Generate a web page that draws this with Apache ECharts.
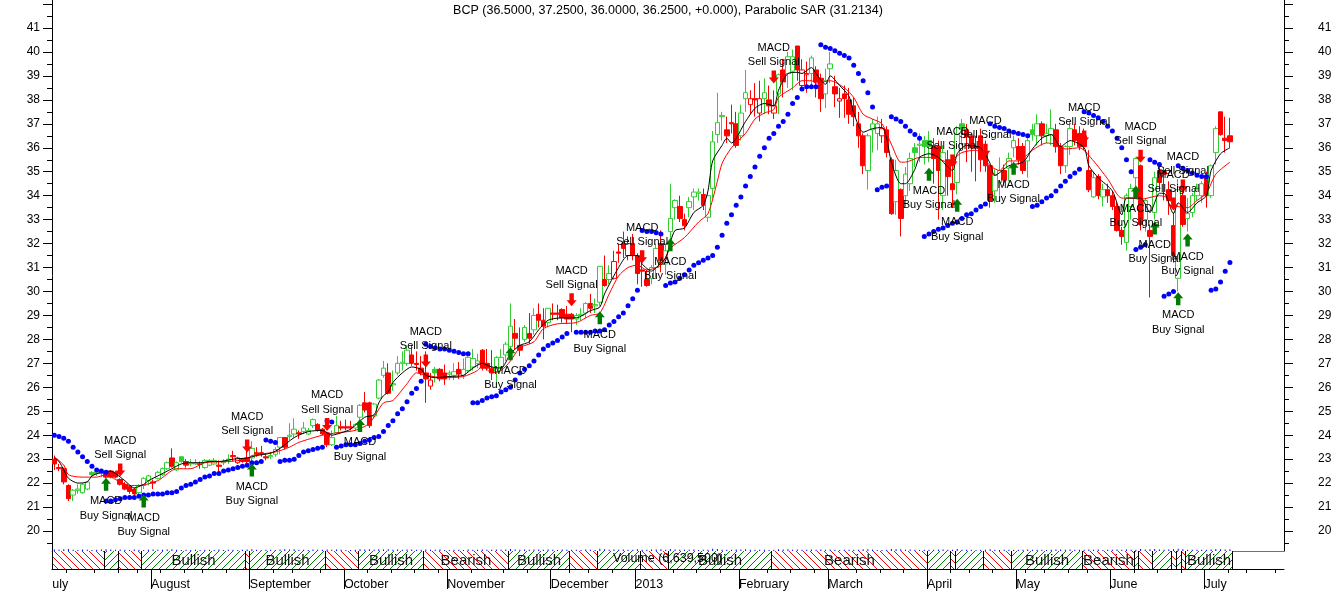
<!DOCTYPE html>
<html><head><meta charset="utf-8"><title>BCP</title>
<script src="https://cdn.jsdelivr.net/npm/echarts@6/dist/echarts.min.js"></script>
<style>html,body{margin:0;padding:0;background:#fff}#c{width:1336px;height:591px}</style></head>
<body><div id="c"></div><script>
const opens=[
23.0,22.65,22.6,21.9,21.5,21.7,21.6,21.75,22.45,22.4,
22.4,22.45,22.5,22.45,22.15,21.95,21.85,21.75,21.6,21.9,
22.1,22.05,22.2,22.35,22.6,23.05,22.55,23.1,22.9,22.8,
22.8,22.8,22.65,22.75,22.8,22.75,22.85,22.95,23.15,22.85,
23.0,23.05,23.05,23.27,23.27,23.1,23.1,23.2,23.5,23.9,
23.95,24.05,24.1,24.15,24.05,24.4,24.45,24.25,24.1,23.6,
24.1,24.35,24.35,24.35,24.3,24.75,25.35,25.35,24.8,25.55,
26.5,26.6,26.1,26.6,27.0,27.0,27.35,27.0,26.8,26.6,
26.05,26.75,26.75,26.6,26.55,26.5,26.75,26.5,26.7,26.85,
27.0,27.55,27.0,26.8,26.65,26.85,27.35,27.7,28.25,27.75,
28.0,28.25,28.4,29.05,28.8,28.7,29.1,29.1,29.25,29.05,
29.05,28.85,29.0,29.1,29.5,29.4,29.55,30.5,30.5,30.55,
31.65,32.0,31.5,32.0,31.5,30.9,30.5,30.55,31.0,32.0,
31.15,32.5,33.5,33.55,33.0,33.5,33.95,34.1,34.05,33.1,
34.3,36.55,37.3,36.75,37.05,37.0,36.5,38.05,37.8,38.05,
37.45,38.05,38.0,37.45,38.25,39.25,39.1,39.2,40.25,38.6,
39.05,39.1,39.25,38.9,38.25,39.3,38.55,37.95,38.25,38.0,
37.75,37.0,36.5,35.05,36.75,36.6,36.5,36.75,35.5,33.75,
34.25,34.0,34.5,36.0,36.1,36.3,36.3,36.05,36.05,34.0,
35.5,34.5,34.55,37.0,36.75,36.5,36.05,36.5,35.8,35.25,
34.2,34.55,35.05,35.15,36.0,36.05,36.05,35.45,36.75,36.5,
37.0,36.5,36.55,36.75,36.05,35.25,36.05,36.75,36.6,36.5,
35.05,33.95,34.8,33.95,34.25,34.0,33.55,32.55,32.05,33.55,
34.75,35.25,33.0,32.55,33.3,35.05,35.0,34.25,32.75,30.55,
34.0,33.05,33.3,34.0,34.0,34.75,34.0,35.8,37.5,36.4,36.5];
const closes=[
22.8,22.6,22.05,21.35,21.7,21.75,21.95,22.05,22.35,22.45,
22.45,22.25,22.25,22.25,21.95,21.75,21.65,21.55,21.9,22.2,
22.3,22.0,22.45,22.6,22.85,22.7,22.85,22.9,22.75,22.85,
22.85,22.78,22.95,22.95,22.95,22.7,22.9,23.0,23.1,23.05,
22.9,22.9,23.45,23.22,23.22,23.05,23.15,23.4,23.9,23.5,
24.0,24.25,24.05,24.3,24.2,24.65,24.2,24.05,23.6,23.9,
24.4,24.3,24.3,24.3,24.45,25.25,25.05,24.4,25.3,26.3,
26.8,25.75,26.15,27.0,27.05,27.55,27.0,26.95,26.6,26.35,
26.3,26.6,26.35,26.35,26.6,26.65,26.55,26.75,27.25,27.2,
27.1,26.8,26.8,26.6,27.25,27.25,27.8,28.55,28.05,27.55,
28.5,28.05,29.0,28.8,28.55,29.3,29.05,29.05,28.9,28.85,
28.85,29.0,29.05,29.5,29.3,29.45,31.05,30.25,30.75,31.25,
31.6,31.8,32.0,31.5,30.75,30.85,30.25,31.0,31.8,31.3,
31.7,33.05,33.8,33.05,32.75,33.75,34.15,34.15,33.6,34.0,
36.25,37.05,37.35,36.5,37.0,36.1,37.45,38.3,38.05,38.0,
38.05,38.3,37.75,37.75,39.05,38.75,39.8,39.8,39.25,39.25,
39.1,39.75,38.75,38.05,38.8,39.5,38.25,38.05,38.05,37.4,
37.3,36.5,35.25,36.5,37.0,37.0,36.8,35.8,33.25,35.05,
33.05,34.9,35.55,35.8,36.15,36.05,36.05,35.55,35.05,35.8,
34.8,34.25,36.55,36.75,36.45,36.0,36.0,35.5,35.25,33.8,
34.85,35.05,34.65,35.55,36.3,35.5,35.05,36.3,36.55,37.0,
36.5,36.6,36.8,36.05,35.25,36.05,36.8,36.3,36.05,36.05,
34.25,34.75,34.0,34.25,34.0,33.55,32.55,32.3,34.0,34.3,
35.55,32.8,33.8,32.3,34.75,34.55,34.9,33.8,31.5,34.25,
32.8,33.25,34.0,34.3,34.5,34.0,35.25,36.8,36.55,36.3,36.25];
const lows=[
22.55,22.5,21.95,21.25,21.25,21.55,21.55,21.7,22.3,22.3,
22.25,22.2,22.2,22.2,21.9,21.7,21.55,21.45,21.45,21.75,
21.9,21.75,22.15,22.3,22.55,22.65,22.5,22.85,22.65,22.7,
22.75,22.6,22.6,22.7,22.75,22.45,22.75,22.8,22.9,22.8,
22.85,22.8,22.9,23.1,23.1,22.95,23.0,23.1,23.2,23.4,
23.8,23.9,23.85,24.05,24.0,24.3,24.15,24.0,23.5,23.55,
24.05,24.2,24.2,24.2,24.2,24.65,24.95,24.3,24.7,25.5,
26.4,25.7,25.85,26.5,26.7,26.9,26.9,26.7,26.5,25.35,
25.9,26.2,26.25,26.1,26.3,26.3,26.35,26.35,26.6,26.7,
26.8,26.7,26.7,26.3,26.0,26.7,27.1,27.5,27.6,27.3,
27.9,27.8,28.2,28.5,28.0,28.5,28.8,28.8,28.7,28.65,
28.3,28.6,28.8,28.9,29.1,29.1,29.4,30.2,30.3,30.5,
31.2,31.4,31.3,31.3,30.3,30.2,30.2,30.3,30.6,30.8,
30.7,32.0,33.0,32.9,32.55,33.1,33.4,33.8,33.4,32.9,
33.9,36.2,36.3,36.2,36.6,36.0,36.3,37.5,37.4,37.3,
37.1,37.4,37.4,37.2,37.4,38.1,38.5,38.4,38.8,38.4,
38.3,38.6,38.1,37.5,37.65,38.7,37.7,37.25,37.25,37.0,
36.9,36.0,34.9,34.25,35.8,35.9,36.2,35.6,33.2,33.2,
32.3,33.5,34.2,35.2,35.4,35.3,35.4,34.5,33.0,33.4,
34.0,33.5,34.05,36.1,35.4,35.0,34.6,35.0,35.0,33.5,
33.7,34.0,34.4,34.6,35.6,35.3,34.9,34.75,36.3,36.1,
36.1,36.2,36.1,35.8,34.9,34.95,35.7,36.1,35.9,35.9,
34.15,33.9,33.85,33.55,33.7,33.4,32.5,31.95,31.7,33.0,
34.4,32.55,32.5,29.75,33.0,34.2,33.8,33.2,31.2,30.0,
32.7,32.5,33.1,33.8,33.7,33.5,33.9,35.3,36.5,35.8,36.0];
const highs=[
23.15,22.8,22.65,21.95,21.75,21.95,22.0,22.1,22.5,22.55,
22.5,22.5,22.55,22.5,22.2,22.05,21.9,21.8,21.95,22.25,
22.35,22.15,22.5,22.65,22.9,23.45,22.9,23.1,23.0,23.0,
23.0,22.9,23.0,23.0,23.05,22.95,23.0,23.2,23.35,23.1,
23.05,23.4,23.75,23.5,23.55,23.2,23.3,23.5,23.9,23.9,
24.5,24.7,24.2,24.55,24.3,24.7,24.5,24.3,24.15,24.2,
24.8,24.6,24.65,24.6,24.5,25.3,25.8,25.4,25.35,26.35,
27.1,27.0,26.7,27.3,27.5,27.75,27.75,27.5,27.3,27.5,
26.6,26.85,26.8,26.95,26.7,27.0,27.05,27.2,27.3,27.6,
27.4,27.6,27.6,27.55,27.3,27.6,27.9,29.5,28.85,28.5,
28.6,29.1,29.3,29.5,29.3,29.3,29.5,29.45,29.3,29.4,
29.1,29.1,29.3,29.55,29.9,29.7,31.05,31.5,31.1,31.7,
32.0,32.5,32.3,32.4,31.6,31.2,30.9,31.1,32.0,32.55,
32.0,34.5,33.85,34.0,33.25,33.95,34.3,34.3,34.3,34.1,
36.7,38.3,37.5,37.3,37.8,37.5,37.8,39.25,38.4,38.7,
38.8,38.9,38.6,38.4,39.1,39.7,40.0,40.1,40.25,39.7,
39.6,39.85,39.4,39.1,39.3,40.0,39.0,38.5,38.6,38.5,
38.1,37.5,36.6,36.6,37.2,37.3,37.2,36.9,35.6,35.5,
34.3,35.2,35.8,36.2,36.6,36.5,36.7,36.4,36.3,36.1,
35.9,35.2,36.9,37.2,37.0,36.6,36.5,36.8,36.3,35.3,
35.1,35.6,35.3,35.8,36.5,36.4,36.2,36.4,37.0,37.4,
37.1,37.0,37.6,37.0,36.2,36.1,37.1,37.0,36.9,36.8,
35.9,35.0,34.9,34.5,34.5,34.2,33.7,32.7,34.1,34.5,
35.6,35.3,33.9,32.8,35.0,35.2,35.2,34.6,33.3,34.7,
34.4,33.9,34.1,34.5,34.6,35.0,35.3,36.9,37.5,37.3,37.25];
const barColorGroups=[
"rrrrgggggg","grrrrrrrgg","grgggrggrg","grgggrggrr","rrgrrrgggr",
"ggrgggrrrg","grrrggrrgg","grggggrrrr","rgrrggrggg","grrrggggrr",
"grgrrgrrrr","rgggrggrgr","rrrrrrrggr","gggrrgggrg","gggrrrggrr",
"rgrrgrggrr","rgrrggrrrr","rrrgggrrrg","rggggggrrg","rrggrrrrrr",
"ggrggrrggg","rggrrggrrr","rgrgrrrrgg","grgrgrrrrg","rggggrggrr","r"];
const monthIdx=[0,21,42,62,84,106,124,146,165,186,205,225,245];
const monthNames=["uly","August","September","October","November","December","2013","February","March","April","May","June","July"];
const weekTicks=[3,9,14,18,23,28,32,37,47,51,57,67,72,77,82,89,96,101,110,114,119,132,137,142,152,157,162,171,176,181,191,195,200,207,211,216,220,230,235,240,250,254,260];
const fastIdx=[0,1,2,3,5,7,8,10,12,13,15,17,19,20,22,25,27,29,31,33,35,38,41,43,46,48,51,54,57,59,61,63,66,68,69,70,71,72,74,76,78,79,81,84,87,89,91,93,95,97,99,101,103,105,108,111,114,116,117,120,122,124,125,127,128,130,131,132,134,136,138,139,140,142,143,144,147,149,151,153,154,156,158,159,161,162,164,165,167,169,170,172,174,176,177,178,180,181,183,184,186,188,191,192,194,197,199,200,203,206,208,210,212,214,216,219,220,222,225,227,228,231,233,235,236,238,239,241,243,245,246,248,250];
const fastVal=[23.05,22.9,22.55,22.2,22.0,22.05,22.3,22.45,22.5,22.4,22.1,21.8,21.95,22.1,22.3,22.6,22.8,22.85,22.85,22.9,22.9,23.0,23.05,23.15,23.25,23.45,23.9,24.15,24.2,24.0,24.1,24.25,24.75,24.85,25.35,25.65,25.8,26.2,26.6,26.85,26.75,26.5,26.4,26.45,26.5,26.8,27.0,26.85,26.8,27.4,27.75,27.9,28.4,28.8,28.9,28.9,29.2,29.35,29.9,31.0,31.5,31.5,31.15,30.85,31.0,31.4,32.05,32.55,32.65,33.3,33.6,34.2,35.45,36.1,36.4,36.2,37.1,37.65,37.85,37.75,38.4,39.1,39.15,39.1,39.35,39.1,38.65,39.0,38.6,38.15,37.45,36.65,36.8,36.85,36.4,35.4,34.5,34.5,35.1,35.6,35.75,35.6,35.05,35.75,36.1,36.0,35.35,34.85,35.25,35.4,35.95,36.4,36.55,36.05,36.3,36.0,35.25,34.75,34.2,33.2,33.9,33.9,33.3,34.1,34.1,33.25,33.7,33.3,33.7,34.0,35.05,35.75,36.0];
const slowIdx=[0,2,3,6,9,11,13,16,18,22,26,29,32,37,41,42,47,50,52,57,60,64,67,70,72,75,77,79,83,87,90,91,93,95,97,99,102,104,107,111,114,116,118,120,122,124,126,129,131,134,137,139,141,142,144,147,149,151,153,154,157,159,161,162,165,168,170,172,174,176,178,180,181,184,187,190,193,196,199,201,203,205,208,211,213,215,218,221,224,227,229,231,235,237,238,241,243,245,247,250];
const slowVal=[23.1,22.75,22.35,22.25,22.25,22.35,22.15,21.9,21.9,22.1,22.6,22.6,22.85,22.9,23.0,23.15,23.3,23.5,23.7,24.0,24.1,24.2,24.5,25.35,25.45,26.15,26.6,26.5,26.4,26.45,26.7,26.9,26.6,26.7,27.1,27.65,27.9,28.45,28.65,28.7,29.0,29.1,29.9,30.65,31.0,31.1,30.9,31.1,31.8,32.25,32.9,33.25,34.6,35.35,36.0,36.6,37.2,37.45,37.6,38.1,38.5,38.8,38.8,38.7,38.8,38.5,38.1,37.4,37.2,37.0,36.15,35.4,35.4,35.6,35.6,35.4,35.8,35.9,35.25,35.05,35.45,35.45,35.9,36.2,36.15,35.95,36.0,35.45,34.7,33.9,33.9,33.85,34.0,33.9,33.6,33.5,33.8,34.1,34.9,35.4];
const sarStarts=[0,11,45,48,58,60,79,89,111,125,130,163,175,178,185,199,208,219,230,233,236,239,246];
const sarValues=[
[24.0,23.95,23.87,23.75,23.5,23.3,23.1,22.9,22.7,22.55,22.5,22.45],
[21.25,21.25,21.3,21.35,21.4,21.4,21.4,21.45,21.5,21.5,21.55,21.55,21.55,21.6,21.6,21.65,21.8,21.9,21.95,22.05,22.15,22.25,22.3,22.4,22.4,22.5,22.55,22.6,22.65,22.7,22.75,22.85,22.85,22.9],
[23.8,23.75,23.7],
[22.9,22.95,22.95,23.0,23.15,23.3,23.35,23.4,23.45,23.5],
[24.6,24.55],
[23.5,23.55,23.6,23.6,23.6,23.65,23.75,23.8,23.9,23.95,24.15,24.4,24.6,24.9,25.1,25.4,25.75,25.95,26.25],
[27.8,27.7,27.65,27.6,27.6,27.55,27.5,27.45,27.4,27.4],
[25.35,25.35,25.45,25.55,25.6,25.65,25.8,25.9,26.0,26.3,26.6,26.75,26.9,27.1,27.35,27.6,27.75,27.85,27.95,28.1,28.25],
[28.3,28.3,28.3,28.3,28.35,28.35,28.4,28.6,28.75,28.95,29.1,29.4,29.7,30.05],
[32.55,32.5,32.5,32.45,32.4],
[30.25,30.35,30.4,30.55,30.7,30.9,31.1,31.2,31.3,31.4,31.5,31.85,32.35,32.85,33.2,33.6,33.95,34.4,34.8,35.2,35.65,36.0,36.4,36.6,36.9,37.1,37.4,37.85,38.1,38.45,38.55,38.55,38.55],
[40.3,40.2,40.15,40.05,39.95,39.85,39.75,39.45,39.1,38.8,38.3,37.7],
[34.25,34.35,34.4],
[37.3,37.2,37.1,36.9,36.7,36.55,36.4],
[32.3,32.4,32.5,32.6,32.65,32.75,32.85,32.9,33.05,33.2,33.25,33.4,33.55,33.65],
[37.0,36.9,36.85,36.8,36.7,36.65,36.6,36.55,36.5],
[33.55,33.6,33.75,33.9,34.0,34.2,34.4,34.6,34.8,34.95,35.1],
[37.5,37.45,37.35,37.25,37.1,36.9,36.7,36.4,36.0,35.5,35.0],
[31.75,31.85,31.95],
[35.5,35.4,35.3],
[29.8,29.9,30.0],
[35.25,35.15,35.05,34.95,34.85,34.8,34.8],
[30.05,30.1,30.4,30.85,31.21]];
const sellIdx=[14,41,58,79,110,125,153,191,198,219,231,240,238];
const sellPrice=[22.55,23.55,24.45,27.1,29.65,31.45,38.95,35.45,35.9,36.45,35.65,34.4,33.65];
const buyIdx=[11,19,42,65,97,116,131,186,192,204,230,234,241,239];
const buyPrice=[21.95,21.25,22.55,24.4,27.4,28.9,31.95,34.9,33.6,35.15,34.15,32.65,32.15,29.7];
const bandEdges=[0,11,14,19,41,42,58,65,79,97,110,116,125,131,153,186,191,192,198,204,219,230,231,234,238,239,240,241,251];
const bandStates="rgrgrgrgrgrgrgrgrgrgrgrgrgrg";
const bandText=["","","","Bullish","","Bullish","","Bullish","Bearish","Bullish","","","","Bullish","Bearish","","","","","Bullish","Bearish","","","","","","","Bullish"];
const volumes=[6,5,7,8,5,4,6,5,4,5,6,7,6,5,6,5,4,6,5,4,5,6,5,5,6,7,5,4,5,4,5,4,5,5,4,6,4,5,5,4,5,6,7,5,4,5,5,4,6,7,6,7,5,5,4,6,5,5,6,5,6,5,4,4,5,7,6,7,5,7,6,7,5,6,5,6,6,5,5,6,5,5,6,4,4,5,5,4,6,5,5,6,5,5,6,5,6,8,6,5,6,5,6,6,5,6,5,4,6,5,5,5,4,6,5,4,9,7,5,6,5,6,5,5,7,5,5,6,6,7,5,8,6,5,5,5,6,4,5,5,9,8,5,5,5,6,6,7,5,5,5,5,4,5,7,6,7,5,6,5,5,6,5,6,5,6,5,4,5,5,5,5,7,7,6,4,4,5,8,7,7,5,6,5,4,5,5,5,6,6,5,5,8,5,5,5,4,5,5,7,5,4,5,5,5,5,5,6,5,5,5,4,5,6,6,5,6,5,5,5,6,5,6,4,5,5,6,5,6,5,5,8,6,7,8,6,5,6,7,9,7,5,5,5,5,5,6,8,7,6,7];
const yMin=19.165,yMax=42.17;
const majorValues=[20,21,22,23,24,25,26,27,28,29,30,31,32,33,34,35,36,37,38,39,40,41,42];
const minorValues=[19.5,20.5,21.5,22.5,23.5,24.5,25.5,26.5,27.5,28.5,29.5,30.5,31.5,32.5,33.5,34.5,35.5,36.5,37.5,38.5,39.5,40.5,41.5];
const labelValues=[20,21,22,23,24,25,26,27,28,29,30,31,32,33,34,35,36,37,38,39,40,41];

const slotCount=262;
const colorsStr=barColorGroups.join("");
const FONT='"Liberation Sans",Arial,sans-serif';
const GREEN='#32cd32',RED='#ff0000';
const categories=[];for(let i=0;i<slotCount;i++){const m=monthIdx.indexOf(i);categories.push(m>=0?monthNames[m]:'');}
function hatch(color,down){const s=7,c=document.createElement('canvas');c.width=s;c.height=s;const g=c.getContext('2d');g.fillStyle='#fff';g.fillRect(0,0,s,s);g.fillStyle=color;for(let k=0;k<s;k++){g.fillRect(k,down?k:s-1-k,1,1);}return {image:c,repeat:'repeat'};}
const patR=hatch('#ff0000',true),patG=hatch('#008000',false);

const candleData=opens.map((o,i)=>{
  const col=colorsStr[i]==='g'?GREEN:RED;
  const fill=closes[i]>o?'#fff':col;
  return {value:[o,closes[i],lows[i],highs[i]],itemStyle:{color:fill,color0:fill,borderColor:col,borderColor0:col,borderColorDoji:col,opacity:1}};
});
const sarData=[];sarValues.forEach((seg,k)=>seg.forEach((v,j)=>sarData.push([sarStarts[k]+j,v])));
const bandData=[];for(let k=0;k<bandEdges.length-1;k++)bandData.push([bandEdges[k],bandEdges[k+1],k]);
const tickData=weekTicks.map(i=>[i,4]).concat(monthIdx.slice(1).map(i=>[i,20]));
const crisp=v=>Math.round(v)+0.5;

function yAx(pos,kind){
  const major=kind==='major';
  return {type:'value',gridIndex:0,position:pos,min:yMin,max:yMax,splitLine:{show:false},
    axisLine:{show:major,onZero:false,lineStyle:{color:'#000'}},
    axisTick:{show:true,inside:false,length:major?9:5,customValues:major?majorValues:minorValues,lineStyle:{color:'#000'}},
    axisLabel:major?{show:true,customValues:labelValues,fontFamily:FONT,fontSize:12,color:'#000',margin:pos==='left'?12:34,align:pos==='left'?'right':'left',formatter:v=>String(v)}:{show:false}};
}
const chart=echarts.init(document.getElementById('c'),null,{renderer:'canvas'});
chart.setOption({
  animation:false,backgroundColor:'#fff',
  title:[
    {text:'BCP (36.5000, 37.2500, 36.0000, 36.2500, +0.000), Parabolic SAR (31.2134)',left:'center',top:4,padding:0,textStyle:{fontFamily:FONT,fontSize:12.5,fontWeight:'normal',color:'#000'}},
    {text:'Volume (6,639,500)',left:613,top:552,padding:0,z:20,textStyle:{fontFamily:FONT,fontSize:12.5,fontWeight:'normal',color:'#000'}}
  ],
  grid:[{left:52,right:52,top:0,height:551},{left:52,right:52,top:551,height:20}],
  xAxis:[
    {type:'category',gridIndex:0,data:categories,boundaryGap:true,axisLine:{onZero:false,lineStyle:{color:'#707070'}},axisTick:{show:false},axisLabel:{show:false},splitLine:{show:false}},
    {type:'category',gridIndex:1,data:categories,boundaryGap:true,axisLine:{onZero:false,lineStyle:{color:'#000'}},axisTick:{show:false},splitLine:{show:false},
      axisLabel:{show:true,interval:(i,v)=>v!=='',align:'left',margin:9,padding:[0,0,0,-2],fontFamily:FONT,fontSize:12.5,color:'#000',hideOverlap:false}}
  ],
  yAxis:[yAx('left','major'),yAx('left','minor'),yAx('right','major'),yAx('right','minor'),
    {type:'value',gridIndex:0,min:0,max:2200,show:false,splitLine:{show:false}},
    {type:'value',gridIndex:1,min:0,max:1,show:false,splitLine:{show:false}}
  ],
  series:[
    {type:'custom',name:'band',xAxisIndex:1,yAxisIndex:5,z:1,silent:true,clip:false,data:bandData,
      renderItem:(p,api)=>{
        const a=api.value(0),b=api.value(1),k=api.value(2),w=api.size([1,0])[0];
        const tl=api.coord([a,1]),br=api.coord([b,0]);
        const x0=crisp(tl[0]-w/2),x1=crisp(br[0]-w/2),y0=tl[1],y1=br[1];
        const kids=[
          {type:'rect',shape:{x:x0,y:y0,width:x1-x0,height:y1-y0},style:{fill:bandStates[k]==='r'?patR:patG,stroke:null}},
          {type:'line',shape:{x1:x0,y1:y0,x2:x0,y2:y1},style:{stroke:'#000',lineWidth:1}},
          {type:'line',shape:{x1:x1,y1:y0,x2:x1,y2:y1},style:{stroke:'#000',lineWidth:1}}];
        if(bandText[k])kids.push({type:'text',style:{text:bandText[k],x:(x0+x1)/2,y:(y0+y1)/2+1,align:'center',verticalAlign:'middle',fill:'#111',font:'15px '+FONT}});
        return {type:'group',children:kids};
      }},
    {type:'custom',name:'ticks',xAxisIndex:1,yAxisIndex:5,z:2,silent:true,clip:false,data:tickData,
      renderItem:(p,api)=>{
        const c=api.coord([api.value(0),0]),w=api.size([1,0])[0],x=crisp(c[0]-w/2);
        return {type:'line',shape:{x1:x,y1:c[1],x2:x,y2:c[1]+api.value(1)},style:{stroke:'#000',lineWidth:1}};
      }},
    {type:'bar',name:'Volume',xAxisIndex:0,yAxisIndex:4,barWidth:1,z:3,silent:true,itemStyle:{color:'#0000ff'},data:volumes},
    {type:'candlestick',name:'BCP',xAxisIndex:0,yAxisIndex:0,barWidth:5,z:4,silent:true,data:candleData,
      itemStyle:{borderWidth:1}},
    {type:'line',name:'slow',xAxisIndex:0,yAxisIndex:0,z:5,silent:true,showSymbol:false,smooth:0.25,lineStyle:{color:'#ff0000',width:1},
      data:slowIdx.map((i,k)=>[i,slowVal[k]])},
    {type:'line',name:'fast',xAxisIndex:0,yAxisIndex:0,z:6,silent:true,showSymbol:false,smooth:0.25,lineStyle:{color:'#000',width:1},
      data:fastIdx.map((i,k)=>[i,fastVal[k]])},
    {type:'scatter',name:'Parabolic SAR',xAxisIndex:0,yAxisIndex:0,z:7,silent:true,symbol:'circle',symbolSize:[5,5],symbolKeepAspect:false,itemStyle:{color:'#0000ff',opacity:1},data:sarData},
    {type:'scatter',name:'sell',xAxisIndex:0,yAxisIndex:0,z:8,silent:true,symbol:'path://M2.5,0L6.5,0L6.5,7L9,7L4.5,13L0,7L2.5,7Z',symbolSize:[10,13],symbolKeepAspect:false,
      itemStyle:{color:'#ff0000',opacity:1},data:sellIdx.map((i,k)=>[i,sellPrice[k]]),
      label:{show:true,position:'top',distance:1,formatter:'MACD\nSell Signal',fontFamily:FONT,fontSize:11,lineHeight:14.5,color:'#000',align:'center'},labelLayout:{hideOverlap:false}},
    {type:'scatter',name:'buy',xAxisIndex:0,yAxisIndex:0,z:8,silent:true,symbol:'path://M4.5,0L9,6L6.5,6L6.5,13L2.5,13L2.5,6L0,6Z',symbolSize:[10,13],symbolKeepAspect:false,
      itemStyle:{color:'#007a00',opacity:1},data:buyIdx.map((i,k)=>[i,buyPrice[k]]),
      label:{show:true,position:'bottom',distance:3,formatter:'MACD\nBuy Signal',fontFamily:FONT,fontSize:11,lineHeight:14.5,color:'#000',align:'center'},labelLayout:{hideOverlap:false}}
  ]
});
</script></body></html>
